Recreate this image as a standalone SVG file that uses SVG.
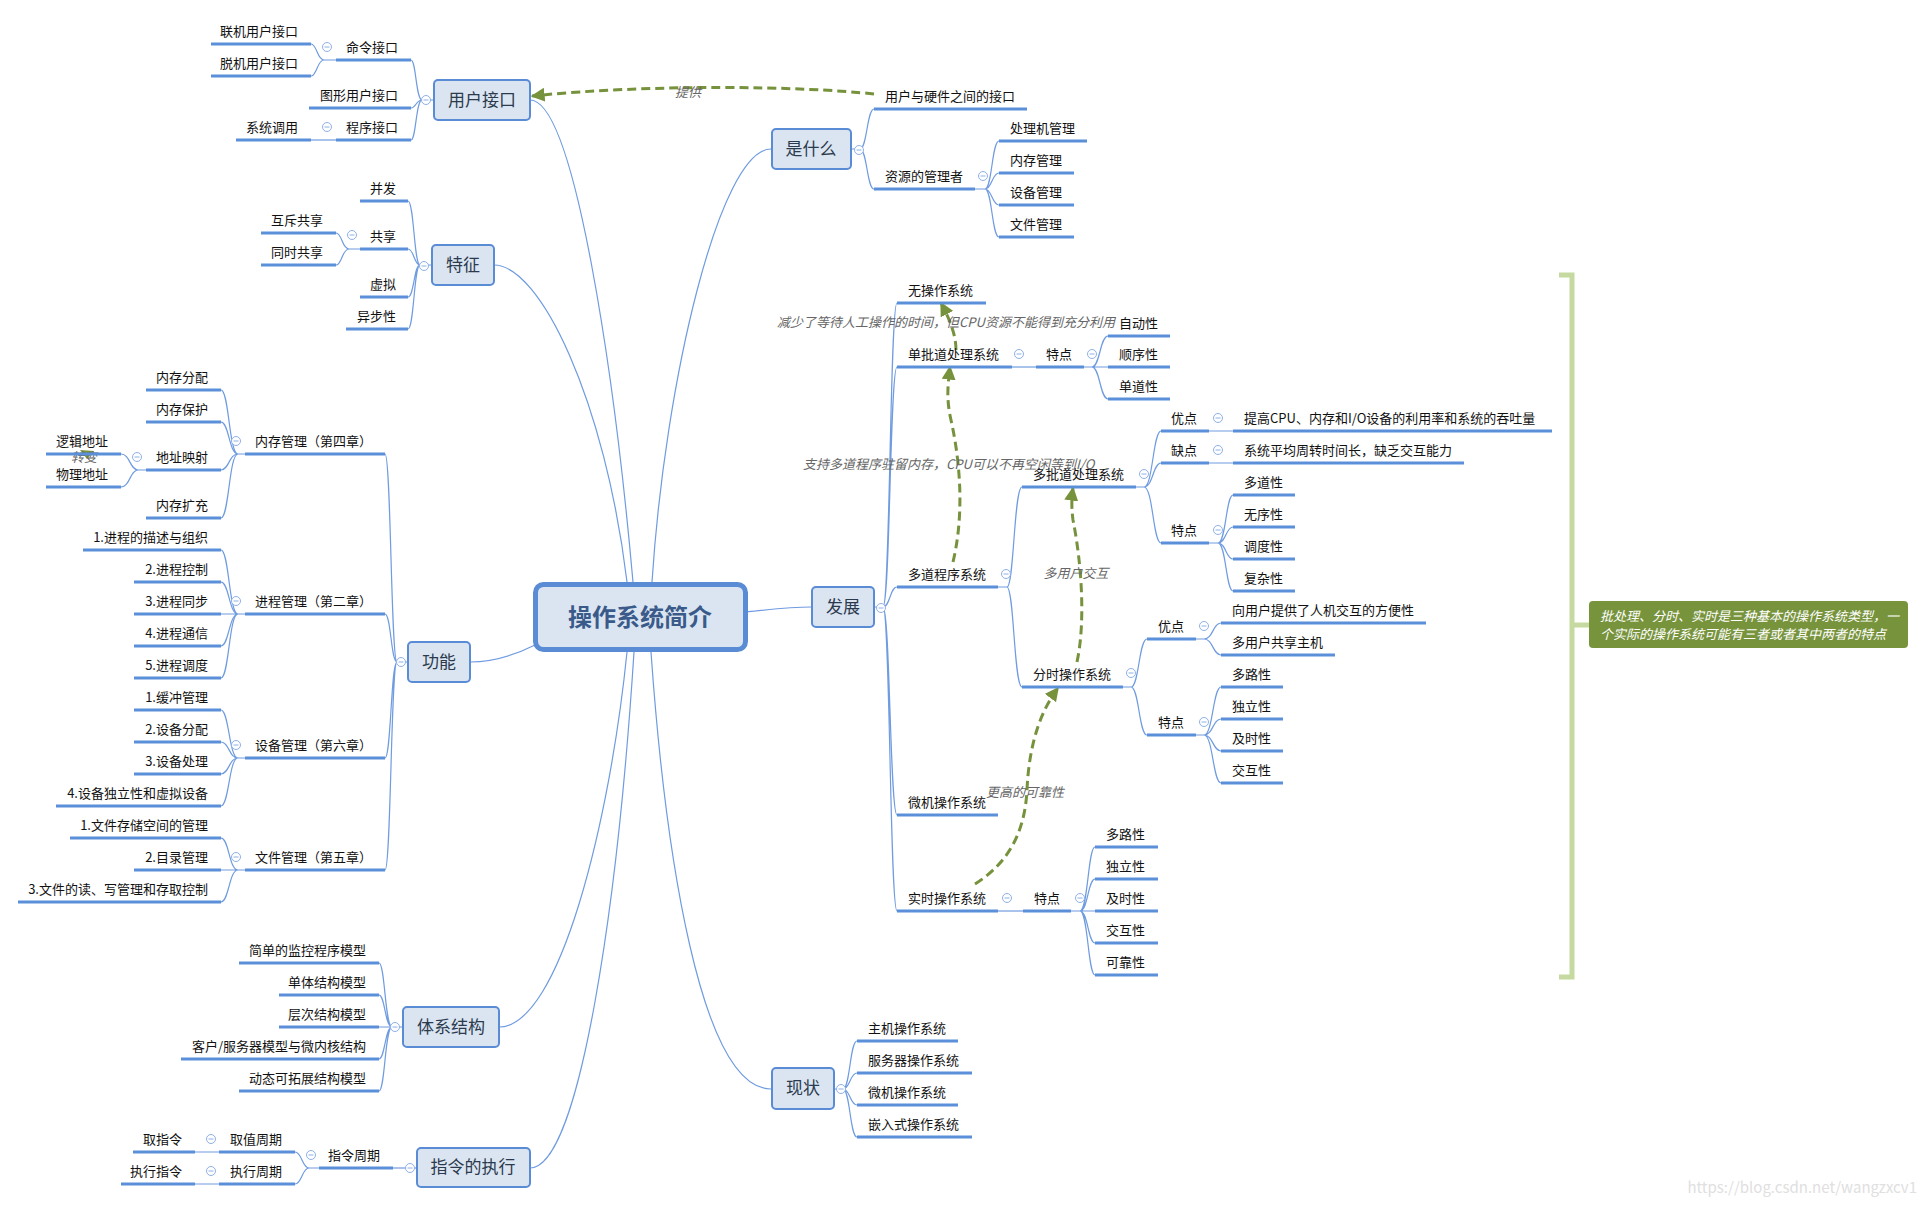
<svg xmlns="http://www.w3.org/2000/svg" xmlns:xlink="http://www.w3.org/1999/xlink" width="1925" height="1205" viewBox="0 0 1925 1205">
<style>
text{font-family:"Noto Sans CJK SC","Noto Sans",sans-serif}
.t{font-size:13px;fill:#111}
.l{text-anchor:end}
.u{stroke:#5b8fd9;stroke-width:3;fill:none}
.cn{stroke:#6f9be0;stroke-width:1.2;fill:none}
.bx{fill:#dbe5f2;stroke:#5a8bd5;stroke-width:2}
.bt{font-size:17px;fill:#2b3a4d;text-anchor:middle}
.rel{stroke:#76923c;stroke-width:3;fill:none;stroke-dasharray:9 5}
.rl{font-size:13px;fill:#666;font-style:italic}
</style>
<defs>
<g id="col"><circle r="4.5" fill="#fff" stroke="#8eb0e6" stroke-width="1"/><path d="M-2.5 0H2.5" stroke="#8eb0e6" stroke-width="1"/></g>
<marker id="ah" viewBox="0 0 10 10" refX="9" refY="5" markerWidth="14" markerHeight="14" markerUnits="userSpaceOnUse" orient="auto"><path d="M0 0L10 5L0 10z" fill="#76923c"/></marker>
</defs>
<rect width="1925" height="1205" fill="#fff"/>

<g id="connectors">
<!-- center to main topics -->
<path class="cn" d="M530 100C575 100 615 380 633 582"/>
<path class="cn" d="M494 265C540 265 605 400 627 582"/>
<path class="cn" d="M771 149C720 149 665 380 652 582"/>
<path class="cn" d="M470 662C495 662 515 655 535 645"/>
<path class="cn" d="M746 612C775 609 790 607 811 607"/>
<path class="cn" d="M499 1027C560 1027 610 820 627 652"/>
<path class="cn" d="M530 1168C580 1168 618 900 634 652"/>
<path class="cn" d="M771 1089C700 1089 665 850 651 652"/>
<!-- 用户接口 -->
<path class="cn" d="M433 100H422M422 100C416 100 416 60 411 60M422 100C416 100 416 108 411 108M422 100C416 100 416 140 411 140"/>
<path class="cn" d="M336 60H324M324 60C317 60 317 44 311 44M324 60C317 60 317 76 311 76"/>
<path class="cn" d="M336 140H311"/>
<!-- 特征 -->
<path class="cn" d="M431 265H420M420 265C414 265 414 201 408 201M420 265C414 265 414 249 408 249M420 265C414 265 414 297 408 297M420 265C414 265 414 329 408 329"/>
<path class="cn" d="M360 249H349M349 249C342 249 342 233 336 233M349 249C342 249 342 265 336 265"/>
<!-- 功能 -->
<path class="cn" d="M407 662H397M397 662C391 662 391 454 385 454M397 662C391 662 391 614 385 614M397 662C391 662 391 758 385 758M397 662C391 662 391 870 385 870"/>
<path class="cn" d="M245 454H238M238 454C229 454 229 390 221 390M238 454C229 454 229 422 221 422M238 454C229 454 229 470 221 470M238 454C229 454 229 518 221 518"/>
<path class="cn" d="M146 470H138M138 470C130 470 130 454 121 454M138 470C130 470 130 487 121 487"/>
<path class="cn" d="M245 614H238M238 614C229 614 229 550 221 550M238 614C229 614 229 582 221 582M238 614H221M238 614C229 614 229 646 221 646M238 614C229 614 229 678 221 678"/>
<path class="cn" d="M245 758H238M238 758C229 758 229 710 221 710M238 758C229 758 229 742 221 742M238 758C229 758 229 774 221 774M238 758C229 758 229 806 221 806"/>
<path class="cn" d="M245 870H238M238 870C229 870 229 838 221 838M238 870H221M238 870C229 870 229 902 221 902"/>
<!-- 体系结构 -->
<path class="cn" d="M402 1027H392M392 1027C385 1027 385 963 379 963M392 1027C385 1027 385 995 379 995M392 1027H379M392 1027C385 1027 385 1059 379 1059M392 1027C385 1027 385 1091 379 1091"/>
<!-- 指令的执行 -->
<path class="cn" d="M416 1168H393"/>
<path class="cn" d="M319 1168H309M309 1168C302 1168 302 1152 295 1152M309 1168C302 1168 302 1184 295 1184"/>
<path class="cn" d="M219 1152H195M219 1184H195"/>
<!-- 是什么 -->
<path class="cn" d="M851 149H860M860 149C867 149 867 109 874 109M860 149C867 149 867 189 874 189"/>
<path class="cn" d="M975 189H985M985 189C992 189 992 141 999 141M985 189C992 189 992 173 999 173M985 189C992 189 992 205 999 205M985 189C992 189 992 237 999 237"/>
<!-- 发展 -->
<path class="cn" d="M874 607H883M883 607C890 607 890 303 897 303M883 607C890 607 890 367 897 367M883 607C890 607 890 587 897 587M883 607C890 607 890 815 897 815M883 607C890 607 890 911 897 911"/>
<path class="cn" d="M1012 367H1036"/>
<path class="cn" d="M1084 367H1092M1092 367C1100 367 1100 336 1108 336M1092 367H1108M1092 367C1100 367 1100 399 1108 399"/>
<path class="cn" d="M998 587H1007M1007 587C1014 587 1014 487 1022 487M1007 587C1014 587 1014 687 1022 687"/>
<path class="cn" d="M1136 487H1144M1144 487C1153 487 1153 431 1161 431M1144 487C1153 487 1153 463 1161 463M1144 487C1153 487 1153 543 1161 543"/>
<path class="cn" d="M1209 431H1233M1209 463H1233"/>
<path class="cn" d="M1209 543H1218M1218 543C1226 543 1226 495 1233 495M1218 543C1226 543 1226 527 1233 527M1218 543C1226 543 1226 559 1233 559M1218 543C1226 543 1226 591 1233 591"/>
<path class="cn" d="M1123 687H1131M1131 687C1139 687 1139 639 1147 639M1131 687C1139 687 1139 735 1147 735"/>
<path class="cn" d="M1196 639H1204M1204 639C1213 639 1213 623 1221 623M1204 639C1213 639 1213 655 1221 655"/>
<path class="cn" d="M1196 735H1204M1204 735C1213 735 1213 687 1221 687M1204 735C1213 735 1213 719 1221 719M1204 735C1213 735 1213 751 1221 751M1204 735C1213 735 1213 783 1221 783"/>
<path class="cn" d="M998 911H1023"/>
<path class="cn" d="M1071 911H1080M1080 911C1088 911 1088 847 1095 847M1080 911C1088 911 1088 879 1095 879M1080 911H1095M1080 911C1088 911 1088 943 1095 943M1080 911C1088 911 1088 975 1095 975"/>
<!-- 现状 -->
<path class="cn" d="M834 1089H843M843 1089C850 1089 850 1041 857 1041M843 1089C850 1089 850 1073 857 1073M843 1089C850 1089 850 1105 857 1105M843 1089C850 1089 850 1137 857 1137"/>
<!-- relationships -->
<path class="rel" d="M874 94C800 86 650 84 532 96" marker-end="url(#ah)"/>
<path class="rel" d="M956 350C956 335 950 320 941 303" marker-end="url(#ah)"/>
<path class="rel" d="M953 562C963 520 962 470 951 420C946 398 948 385 950 367" marker-end="url(#ah)"/>
<path class="rel" d="M1077 662C1086 620 1081 560 1073 520C1071 505 1072 495 1073 488" marker-end="url(#ah)"/>
<path class="rel" d="M975 884C1010 862 1025 830 1027 790C1029 745 1040 712 1058 688" marker-end="url(#ah)"/>
<path d="M80 450L94 451L87 459z" fill="#76923c"/>
<text class="rl" x="688" y="97" text-anchor="middle">提供</text>
<text class="rl" x="777" y="327">减少了等待人工操作的时间，但CPU资源不能得到充分利用</text>
<text class="rl" x="803" y="469">支持多道程序驻留内存，CPU可以不再空闲等到I/O</text>
<text class="rl" x="1076" y="578" text-anchor="middle">多用户交互</text>
<text class="rl" x="1025" y="797" text-anchor="middle">更高的可靠性</text>
<text class="rl" x="84" y="462" text-anchor="middle" font-size="11">转变</text>
</g>

<g id="center"><rect x="535.5" y="584.5" width="210" height="65" rx="8" fill="#dbe5f2" stroke="#5a8bd5" stroke-width="5"/><text x="640" y="626" font-size="24" font-weight="bold" fill="#3a5b8a" text-anchor="middle">操作系统简介</text></g>

<g id="n-yhjk"><rect class="bx" x="434" y="80" width="96" height="40" rx="4"/><text class="bt" x="482" y="106">用户接口</text><use href="#col" x="426" y="100"/></g>
<g id="n-mljk"><path class="u" d="M336 60H411"/><text class="t l" x="398" y="52">命令接口</text><use href="#col" x="327" y="47"/></g>
<g id="n-ljyh"><path class="u" d="M211 44H311"/><text class="t l" x="298" y="36">联机用户接口</text></g>
<g id="n-tjyh"><path class="u" d="M211 76H311"/><text class="t l" x="298" y="68">脱机用户接口</text></g>
<g id="n-txyh"><path class="u" d="M309 108H411"/><text class="t l" x="398" y="100">图形用户接口</text></g>
<g id="n-cxjk"><path class="u" d="M336 140H411"/><text class="t l" x="398" y="132">程序接口</text><use href="#col" x="327" y="127"/></g>
<g id="n-xtdy"><path class="u" d="M236 140H311"/><text class="t l" x="298" y="132">系统调用</text></g>

<g id="n-tz"><rect class="bx" x="432" y="245" width="62" height="40" rx="4"/><text class="bt" x="463" y="271">特征</text><use href="#col" x="424" y="266"/></g>
<g id="n-bf"><path class="u" d="M360 201H408"/><text class="t l" x="396" y="193">并发</text></g>
<g id="n-gx"><path class="u" d="M360 249H408"/><text class="t l" x="396" y="241">共享</text><use href="#col" x="352" y="235"/></g>
<g id="n-hcgx"><path class="u" d="M261 233H336"/><text class="t l" x="323" y="225">互斥共享</text></g>
<g id="n-tsgx"><path class="u" d="M261 265H336"/><text class="t l" x="323" y="257">同时共享</text></g>
<g id="n-xn"><path class="u" d="M360 297H408"/><text class="t l" x="396" y="289">虚拟</text></g>
<g id="n-ybx"><path class="u" d="M346 329H408"/><text class="t l" x="396" y="321">异步性</text></g>

<g id="n-gn"><rect class="bx" x="408" y="642" width="62" height="40" rx="4"/><text class="bt" x="439" y="668">功能</text><use href="#col" x="401" y="662"/></g>
<g id="n-ncgl"><path class="u" d="M245 454H385"/><text class="t l" x="372" y="446">内存管理（第四章）</text><use href="#col" x="236" y="441"/></g>
<g id="n-ncfp"><path class="u" d="M146 390H221"/><text class="t l" x="208" y="382">内存分配</text></g>
<g id="n-ncbh"><path class="u" d="M146 422H221"/><text class="t l" x="208" y="414">内存保护</text></g>
<g id="n-dzys"><path class="u" d="M146 470H221"/><text class="t l" x="208" y="462">地址映射</text><use href="#col" x="137" y="457"/></g>
<g id="n-ljdz"><path class="u" d="M46 454H121"/><text class="t l" x="108" y="446">逻辑地址</text></g>
<g id="n-wldz"><path class="u" d="M46 487H121"/><text class="t l" x="108" y="479">物理地址</text></g>
<g id="n-nckc"><path class="u" d="M146 518H221"/><text class="t l" x="208" y="510">内存扩充</text></g>
<g id="n-jcgl"><path class="u" d="M245 614H385"/><text class="t l" x="372" y="606">进程管理（第二章）</text><use href="#col" x="236" y="601"/></g>
<g id="n-jc1"><path class="u" d="M83 550H221"/><text class="t l" x="208" y="542">1.进程的描述与组织</text></g>
<g id="n-jc2"><path class="u" d="M134 582H221"/><text class="t l" x="208" y="574">2.进程控制</text></g>
<g id="n-jc3"><path class="u" d="M134 614H221"/><text class="t l" x="208" y="606">3.进程同步</text></g>
<g id="n-jc4"><path class="u" d="M134 646H221"/><text class="t l" x="208" y="638">4.进程通信</text></g>
<g id="n-jc5"><path class="u" d="M134 678H221"/><text class="t l" x="208" y="670">5.进程调度</text></g>
<g id="n-sbgl"><path class="u" d="M245 758H385"/><text class="t l" x="372" y="750">设备管理（第六章）</text><use href="#col" x="236" y="745"/></g>
<g id="n-sb1"><path class="u" d="M134 710H221"/><text class="t l" x="208" y="702">1.缓冲管理</text></g>
<g id="n-sb2"><path class="u" d="M134 742H221"/><text class="t l" x="208" y="734">2.设备分配</text></g>
<g id="n-sb3"><path class="u" d="M134 774H221"/><text class="t l" x="208" y="766">3.设备处理</text></g>
<g id="n-sb4"><path class="u" d="M56 806H221"/><text class="t l" x="208" y="798">4.设备独立性和虚拟设备</text></g>
<g id="n-wjgl"><path class="u" d="M245 870H385"/><text class="t l" x="372" y="862">文件管理（第五章）</text><use href="#col" x="236" y="857"/></g>
<g id="n-wj1"><path class="u" d="M70 838H221"/><text class="t l" x="208" y="830">1.文件存储空间的管理</text></g>
<g id="n-wj2"><path class="u" d="M134 870H221"/><text class="t l" x="208" y="862">2.目录管理</text></g>
<g id="n-wj3"><path class="u" d="M18 902H221"/><text class="t l" x="208" y="894">3.文件的读、写管理和存取控制</text></g>

<g id="n-txjg"><rect class="bx" x="403" y="1007" width="96" height="40" rx="4"/><text class="bt" x="451" y="1033">体系结构</text><use href="#col" x="395" y="1027"/></g>
<g id="n-tx1"><path class="u" d="M239 963H379"/><text class="t l" x="366" y="955">简单的监控程序模型</text></g>
<g id="n-tx2"><path class="u" d="M279 995H379"/><text class="t l" x="366" y="987">单体结构模型</text></g>
<g id="n-tx3"><path class="u" d="M279 1027H379"/><text class="t l" x="366" y="1019">层次结构模型</text></g>
<g id="n-tx4"><path class="u" d="M181 1059H379"/><text class="t l" x="366" y="1051">客户/服务器模型与微内核结构</text></g>
<g id="n-tx5"><path class="u" d="M239 1091H379"/><text class="t l" x="366" y="1083">动态可拓展结构模型</text></g>

<g id="n-zldzx"><rect class="bx" x="417" y="1148" width="113" height="39" rx="4"/><text class="bt" x="473" y="1173">指令的执行</text><use href="#col" x="410" y="1168"/></g>
<g id="n-zlzq"><path class="u" d="M319 1168H393"/><text class="t l" x="380" y="1160">指令周期</text><use href="#col" x="311" y="1155"/></g>
<g id="n-qzzq"><path class="u" d="M219 1152H295"/><text class="t l" x="282" y="1144">取值周期</text><use href="#col" x="211" y="1139"/></g>
<g id="n-qzl"><path class="u" d="M133 1152H195"/><text class="t l" x="182" y="1144">取指令</text></g>
<g id="n-zxzq"><path class="u" d="M219 1184H295"/><text class="t l" x="282" y="1176">执行周期</text><use href="#col" x="211" y="1171"/></g>
<g id="n-zxzl"><path class="u" d="M121 1184H195"/><text class="t l" x="182" y="1176">执行指令</text></g>

<g id="n-ssm"><rect class="bx" x="772" y="129" width="79" height="40" rx="4"/><text class="bt" x="811" y="155">是什么</text><use href="#col" x="859" y="150"/></g>
<g id="n-yhyj"><path class="u" d="M874 109H1027"/><text class="t" x="885" y="101">用户与硬件之间的接口</text></g>
<g id="n-zyglz"><path class="u" d="M874 189H975"/><text class="t" x="885" y="181">资源的管理者</text><use href="#col" x="983" y="176"/></g>
<g id="n-cljgl"><path class="u" d="M999 141H1087"/><text class="t" x="1010" y="133">处理机管理</text></g>
<g id="n-ncgl2"><path class="u" d="M999 173H1074"/><text class="t" x="1010" y="165">内存管理</text></g>
<g id="n-sbgl2"><path class="u" d="M999 205H1074"/><text class="t" x="1010" y="197">设备管理</text></g>
<g id="n-wjgl2"><path class="u" d="M999 237H1074"/><text class="t" x="1010" y="229">文件管理</text></g>

<g id="n-fz"><rect class="bx" x="812" y="587" width="62" height="40" rx="4"/><text class="bt" x="843" y="613">发展</text><use href="#col" x="881" y="608"/></g>
<g id="n-wczxt"><path class="u" d="M897 303H986"/><text class="t" x="908" y="295">无操作系统</text></g>
<g id="n-dpd"><path class="u" d="M897 367H1012"/><text class="t" x="908" y="359">单批道处理系统</text><use href="#col" x="1019" y="354"/></g>
<g id="n-dpdtd"><path class="u" d="M1036 367H1084"/><text class="t" x="1046" y="359">特点</text><use href="#col" x="1092" y="354"/></g>
<g id="n-zdx"><path class="u" d="M1108 336H1170"/><text class="t" x="1119" y="328">自动性</text></g>
<g id="n-sxx"><path class="u" d="M1108 367H1170"/><text class="t" x="1119" y="359">顺序性</text></g>
<g id="n-ddx"><path class="u" d="M1108 399H1170"/><text class="t" x="1119" y="391">单道性</text></g>
<g id="n-ddcx"><path class="u" d="M897 587H998"/><text class="t" x="908" y="579">多道程序系统</text><use href="#col" x="1006" y="574"/></g>
<g id="n-dpdcl"><path class="u" d="M1022 487H1136"/><text class="t" x="1033" y="479">多批道处理系统</text><use href="#col" x="1144" y="474"/></g>
<g id="n-yd1"><path class="u" d="M1161 431H1209"/><text class="t" x="1171" y="423">优点</text><use href="#col" x="1218" y="418"/></g>
<g id="n-yd1a"><path class="u" d="M1233 431H1552"/><text class="t" x="1244" y="423">提高CPU、内存和I/O设备的利用率和系统的吞吐量</text></g>
<g id="n-qd1"><path class="u" d="M1161 463H1209"/><text class="t" x="1171" y="455">缺点</text><use href="#col" x="1218" y="450"/></g>
<g id="n-qd1a"><path class="u" d="M1233 463H1464"/><text class="t" x="1244" y="455">系统平均周转时间长，缺乏交互能力</text></g>
<g id="n-td1"><path class="u" d="M1161 543H1209"/><text class="t" x="1171" y="535">特点</text><use href="#col" x="1218" y="530"/></g>
<g id="n-ddx2"><path class="u" d="M1233 495H1295"/><text class="t" x="1244" y="487">多道性</text></g>
<g id="n-wxx"><path class="u" d="M1233 527H1295"/><text class="t" x="1244" y="519">无序性</text></g>
<g id="n-ddux"><path class="u" d="M1233 559H1295"/><text class="t" x="1244" y="551">调度性</text></g>
<g id="n-fzx"><path class="u" d="M1233 591H1295"/><text class="t" x="1244" y="583">复杂性</text></g>
<g id="n-fscz"><path class="u" d="M1022 687H1123"/><text class="t" x="1033" y="679">分时操作系统</text><use href="#col" x="1131" y="673"/></g>
<g id="n-yd2"><path class="u" d="M1147 639H1196"/><text class="t" x="1158" y="631">优点</text><use href="#col" x="1204" y="626"/></g>
<g id="n-yd2a"><path class="u" d="M1221 623H1426"/><text class="t" x="1232" y="615">向用户提供了人机交互的方便性</text></g>
<g id="n-yd2b"><path class="u" d="M1221 655H1335"/><text class="t" x="1232" y="647">多用户共享主机</text></g>
<g id="n-td2"><path class="u" d="M1147 735H1196"/><text class="t" x="1158" y="727">特点</text><use href="#col" x="1204" y="722"/></g>
<g id="n-dlx2"><path class="u" d="M1221 687H1283"/><text class="t" x="1232" y="679">多路性</text></g>
<g id="n-dlix2"><path class="u" d="M1221 719H1283"/><text class="t" x="1232" y="711">独立性</text></g>
<g id="n-jsx2"><path class="u" d="M1221 751H1283"/><text class="t" x="1232" y="743">及时性</text></g>
<g id="n-jhx2"><path class="u" d="M1221 783H1283"/><text class="t" x="1232" y="775">交互性</text></g>
<g id="n-wjcz"><path class="u" d="M897 815H998"/><text class="t" x="908" y="807">微机操作系统</text></g>
<g id="n-sscz"><path class="u" d="M897 911H998"/><text class="t" x="908" y="903">实时操作系统</text><use href="#col" x="1007" y="898"/></g>
<g id="n-td3"><path class="u" d="M1023 911H1071"/><text class="t" x="1034" y="903">特点</text><use href="#col" x="1080" y="898"/></g>
<g id="n-dlx3"><path class="u" d="M1095 847H1158"/><text class="t" x="1106" y="839">多路性</text></g>
<g id="n-dlix3"><path class="u" d="M1095 879H1158"/><text class="t" x="1106" y="871">独立性</text></g>
<g id="n-jsx3"><path class="u" d="M1095 911H1158"/><text class="t" x="1106" y="903">及时性</text></g>
<g id="n-jhx3"><path class="u" d="M1095 943H1158"/><text class="t" x="1106" y="935">交互性</text></g>
<g id="n-kkx3"><path class="u" d="M1095 975H1158"/><text class="t" x="1106" y="967">可靠性</text></g>

<g id="n-xz"><rect class="bx" x="772" y="1068" width="62" height="41" rx="4"/><text class="bt" x="803" y="1094">现状</text><use href="#col" x="841" y="1089"/></g>
<g id="n-zjcz"><path class="u" d="M857 1041H958"/><text class="t" x="868" y="1033">主机操作系统</text></g>
<g id="n-fwqcz"><path class="u" d="M857 1073H972"/><text class="t" x="868" y="1065">服务器操作系统</text></g>
<g id="n-wjcz2"><path class="u" d="M857 1105H958"/><text class="t" x="868" y="1097">微机操作系统</text></g>
<g id="n-qrscz"><path class="u" d="M857 1137H972"/><text class="t" x="868" y="1129">嵌入式操作系统</text></g>

<g id="summary">
<path d="M1559 275H1572V977H1559M1572 625H1589" stroke="#c6d9a0" stroke-width="5" fill="none"/>
<rect x="1589" y="601" width="319" height="47" rx="4" fill="#77933c"/>
<text x="1600" y="621" font-size="13" font-style="italic" fill="#fff">批处理、分时、实时是三种基本的操作系统类型，一</text>
<text x="1600" y="639" font-size="13" font-style="italic" fill="#fff">个实际的操作系统可能有三者或者其中两者的特点</text>
</g>
<text x="1917" y="1193" font-family="Liberation Sans, Arial, sans-serif" font-size="15" fill="#e0e0e0" text-anchor="end">https://blog.csdn.net/wangzxcv1</text>
</svg>
